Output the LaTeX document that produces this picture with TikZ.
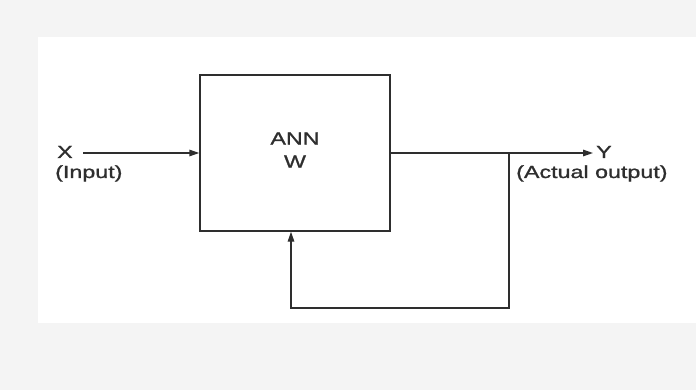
\documentclass[tikz,border=0pt]{standalone}
\usepackage{fontspec}
\setmainfont{Liberation Sans}[FakeStretch=1.33,FakeBold=1.2]
\usetikzlibrary{arrows.meta}
\definecolor{bggray}{HTML}{F4F4F4}
\definecolor{ink}{HTML}{2E2E2E}
\tikzset{
  wire/.style={draw=ink, line width=1.4pt},
  arr/.style={wire, -{Triangle[length=10pt,width=6.5pt]}},
  lbl/.style={text=ink, inner sep=0pt, font=\fontsize{17.5}{23}\selectfont},
  blockbox/.style={wire, rectangle, minimum width=190pt, minimum height=156pt, inner sep=0pt}
}
\begin{document}
\begin{tikzpicture}[x=1pt,y=-1pt]
\useasboundingbox (0,0) rectangle (696,390);
\fill[bggray] (0,0) rectangle (696,390);
\fill[white] (38,37) rectangle (696,323);
% block
\node[blockbox] (ann) at (295,153) {};
\node[lbl, align=center] (annlbl) at (295,150) {ANN\\W};
% input
\coordinate (xin) at (83,153);
\node[lbl, anchor=base west] (xlbl) at (57,158) {X};
\node[lbl, anchor=base west] (inlbl) at (55,178) {(Input)};
\draw[arr] (xin) -- (ann.west);
% output
\coordinate (yout) at (593,153);
\coordinate (br) at (509,153);
\node[lbl, anchor=base west] (ylbl) at (596,158) {Y};
\node[lbl, anchor=base west] (outlbl) at (516,178) {(Actual output)};
\draw[arr] (ann.east) -- (yout);
% feedback
\coordinate (fb) at (291,308);
\draw[arr] (br) |- (fb) -- (fb |- ann.south);
\end{tikzpicture}
\end{document}
